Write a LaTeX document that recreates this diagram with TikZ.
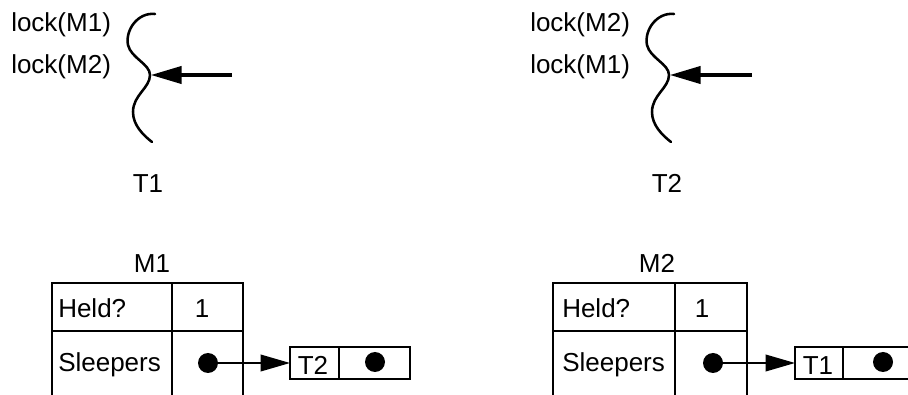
\documentclass[tikz,border=0pt]{standalone}
\usepackage{fontspec}
\setmainfont{Liberation Sans}
\usetikzlibrary{arrows.meta}
\begin{document}
\begin{tikzpicture}[x=0.75pt,y=-0.75pt,
  lbl/.style={font=\fontsize{19.5}{23}\selectfont, inner sep=0pt, anchor=base},
  lblw/.style={lbl, anchor=base west},
  thread/.style={line width=1.9pt, line cap=round},
  pc/.style={line width=2.3pt, -{Triangle[length=23pt,width=13pt]}},
  tbl/.style={line width=2.2pt},
  dotnode/.style={circle, fill=black, inner sep=0pt, minimum size=15pt},
  link/.style={line width=1.1pt, -{Triangle[length=22pt,width=12.5pt]}}]
\useasboundingbox (0,0) rectangle (908,395);

% ---------- thread T1 ----------
\node[lblw] (l11) at (11,32) {lock(M1)};
\node[lblw] (l12) at (11,74) {lock(M2)};
\draw[thread] (155,14) .. controls (138,12) and (125,30) .. (128,45)
  .. controls (131,58) and (150,64) .. (150,75)
  .. controls (150,88) and (133,95) .. (133,112)
  .. controls (133,125) and (143,135) .. (152,142);
\coordinate (m1) at (151,75);
\coordinate (a1) at (232,75);
\draw[pc] (a1) -- (m1);
\node[lbl] (t1) at (148,193) {T1};

% ---------- thread T2 ----------
\node[lblw] (l21) at (530,32) {lock(M2)};
\node[lblw] (l22) at (530,74) {lock(M1)};
\draw[thread] (674,14) .. controls (657,12) and (644,30) .. (647,45)
  .. controls (650,58) and (669,64) .. (669,75)
  .. controls (669,88) and (652,95) .. (652,112)
  .. controls (652,125) and (662,135) .. (671,142);
\coordinate (m2) at (670,75);
\coordinate (a2) at (752,75);
\draw[pc] (a2) -- (m2);
\node[lbl] (t2) at (667,193) {T2};

% ---------- mutex M1 ----------
\node[lbl] (M1) at (152,273) {M1};
\draw[tbl] (52,283) rectangle (243,420);
\draw[tbl] (172,283) -- (172,420);
\draw[tbl] (52,331) -- (243,331);
\node[lblw] (h1) at (58,318) {Held?};
\node[lbl] (v1) at (202,318) {1};
\node[lblw] (s1) at (58,372) {Sleepers};
\node[dotnode] (d1) at (208,363) {};
\draw[tbl] (290,347) rectangle (410,379);
\draw[tbl] (339,347) -- (339,379);
\node[inner sep=0pt, minimum width=36pt, minimum height=24pt] (q1) at (350,363) {};
\coordinate (q1w) at (290,363);
\node[lbl] (qt1) at (313,375) {T2};
\node[dotnode] (qd1) at (375,362) {};
\draw[link] (d1) -- (q1w);

% ---------- mutex M2 ----------
\node[lbl] (M2) at (657,273) {M2};
\draw[tbl] (553,283) rectangle (747,420);
\draw[tbl] (675,283) -- (675,420);
\draw[tbl] (553,331) -- (747,331);
\node[lblw] (h2) at (562,318) {Held?};
\node[lbl] (v2) at (702,318) {1};
\node[lblw] (s2) at (562,372) {Sleepers};
\node[dotnode] (d2) at (713,363) {};
\draw[tbl] (795,347) rectangle (920,379);
\draw[tbl] (843,347) -- (843,379);
\coordinate (q2w) at (795,363);
\node[lbl] (qt2) at (818,375) {T1};
\node[dotnode] (qd2) at (883,362) {};
\draw[link] (d2) -- (q2w);
\end{tikzpicture}
\end{document}
